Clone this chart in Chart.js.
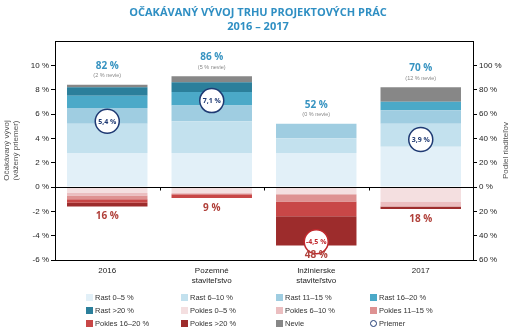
<!DOCTYPE html>
<html>
<head>
<meta charset="utf-8">
<script src="https://cdn.jsdelivr.net/npm/chart.js@4.4.1/dist/chart.umd.min.js"></script>
<style>
  body { margin: 0; background: #fff; }
  #wrap { position: relative; width: 520px; height: 333px; overflow: hidden; }
  #title { position: absolute; left: 0; top: 5px; width: 516px; text-align: center;
    font: bold 11px "Open Sans", sans-serif; color: #2f8fc3; line-height: 14px; }
  #legend { position: absolute; left: 0; top: 293px; width: 520px; }
  .li { position: absolute; font: 7.5px "Liberation Sans", Arial, sans-serif; color: #333; white-space: nowrap; line-height: 9px; }
  .li span.b { display: inline-block; width: 7px; height: 7px; vertical-align: -1px; margin-right: 2px; }
  .li span.c { display: inline-block; width: 5px; height: 5px; border: 1.5px solid #1f3a73; border-radius: 50%; vertical-align: -1px; margin-right: 2px; box-sizing: content-box; }
</style>
</head>
<body>
<div id="wrap">
  <canvas id="chart" width="520" height="333"></canvas>
  <div id="title">OČAKÁVANÝ VÝVOJ TRHU PROJEKTOVÝCH PRÁC<br>2016 – 2017</div>
  <div id="legend"></div>
</div>
<script>
// kategórie
const categories = ['2016', ['Pozemné', 'staviteľstvo'], ['Inžinierske', 'staviteľstvo'], '2017'];

// podiel riaditeľov (%)
const rast0_5 = [28, 28, 28, 33];
const rast6_10 = [24, 26, 12, 19];
const rast11_15 = [13, 13, 12, 11];
const rast16_20 = [10, 11, 0, 7];
const rastNad20 = [7, 8, 0, 0];
const pokles0_5 = [-5, -5, -6, -12];
const pokles6_10 = [-2, -1, 0, -4];
const pokles11_15 = [-3, 0, -6, 0];
const pokles16_20 = [-3, -3, -12, 0];
const poklesNad20 = [-3, 0, -24, -2];
const nevie = [2, 5, 0, 12];

// očakávaný vývoj (vážený priemer, %)
const priemer = [5.4, 7.1, -4.5, 3.9];

const series = [
  { label: 'Rast 0–5 %', data: rast0_5, color: '#e2f0f8' },
  { label: 'Rast 6–10 %', data: rast6_10, color: '#c3e1ee' },
  { label: 'Rast 11–15 %', data: rast11_15, color: '#9fcde1' },
  { label: 'Rast 16–20 %', data: rast16_20, color: '#4ba9c8' },
  { label: 'Rast >20 %', data: rastNad20, color: '#2b7f9b' },
  { label: 'Pokles 0–5 %', data: pokles0_5, color: '#f4dfe0' },
  { label: 'Pokles 6–10 %', data: pokles6_10, color: '#ebbec0' },
  { label: 'Pokles 11–15 %', data: pokles11_15, color: '#de9292' },
  { label: 'Pokles 16–20 %', data: pokles16_20, color: '#c84747' },
  { label: 'Pokles >20 %', data: poklesNad20, color: '#9d2c2c' },
  { label: 'Nevie', data: nevie, color: '#878787' }
];

const NAVY = '#1f3a73';
const RED = '#c0282d';

function sum(arrs, i) {
  return arrs.reduce((s, a) => s + a[i], 0);
}
const rastTotal = categories.map((c, i) => sum([rast0_5, rast6_10, rast11_15, rast16_20, rastNad20], i));
const poklesTotal = categories.map((c, i) => sum([pokles0_5, pokles6_10, pokles11_15, pokles16_20, poklesNad20], i));

const datasets = series.map(s => ({
  type: 'bar',
  label: s.label,
  data: s.data,
  backgroundColor: s.color,
  yAxisID: 'y2',
  stack: 's',
  order: 1,
  barPercentage: 0.77,
  categoryPercentage: 1
}));
datasets.push({
  type: 'line',
  label: 'Priemer',
  data: priemer,
  yAxisID: 'y',
  showLine: false,
  order: 0,
  pointRadius: 12,
  pointBorderWidth: 1.5,
  pointBackgroundColor: '#fff',
  pointBorderColor: priemer.map(v => v < 0 ? RED : NAVY)
});

const framePlugin = {
  id: 'frame',
  afterDatasetsDraw(chart) {
    const ctx = chart.ctx;
    const a = chart.chartArea;
    const x = chart.scales.x;
    const y2 = chart.scales.y2;
    ctx.save();
    ctx.strokeStyle = '#000';
    ctx.lineWidth = 1;
    ctx.strokeRect(Math.round(a.left) + 0.5, Math.round(a.top) + 0.5, Math.round(a.right - a.left), Math.round(a.bottom - a.top));
    const z = Math.round(y2.getPixelForValue(0)) + 0.5;
    ctx.beginPath();
    ctx.moveTo(a.left, z);
    ctx.lineTo(a.right, z);
    const step = x.getPixelForValue(1) - x.getPixelForValue(0);
    for (let i = 1; i < categories.length; i++) {
      const bx = Math.round(x.getPixelForValue(i) - step / 2) + 0.5;
      ctx.moveTo(bx, z);
      ctx.lineTo(bx, z + 3);
    }
    ctx.stroke();

    // popisky nad a pod stĺpcami
    ctx.textAlign = 'center';
    ctx.textBaseline = 'middle';
    categories.forEach((c, i) => {
      const cx = x.getPixelForValue(i);
      const top = y2.getPixelForValue(rastTotal[i] + nevie[i]);
      ctx.fillStyle = '#3793c1';
      ctx.font = 'bold 10px "Open Sans", sans-serif';
      ctx.fillText(rastTotal[i] + ' %', cx, top - 19);
      ctx.fillStyle = '#888';
      ctx.font = '5.5px "Liberation Sans", sans-serif';
      ctx.fillText('(' + nevie[i] + ' % nevie)', cx, top - 9);
      const bot = y2.getPixelForValue(poklesTotal[i]);
      ctx.fillStyle = '#b0403a';
      ctx.font = 'bold 10px "Open Sans", sans-serif';
      ctx.fillText(Math.abs(poklesTotal[i]) + ' %', cx, bot + 10);
    });

    // text v krúžkoch
    const meta = chart.getDatasetMeta(datasets.length - 1);
    meta.data.forEach((pt, i) => {
      ctx.fillStyle = priemer[i] < 0 ? RED : NAVY;
      ctx.font = 'bold 7px "Open Sans", sans-serif';
      ctx.fillText(String(priemer[i]).replace('.', ',') + ' %', pt.x, pt.y + 0.5);
    });

    // názvy osí
    ctx.fillStyle = '#555';
    ctx.font = '8px "Liberation Sans", sans-serif';
    const mid = (a.top + a.bottom) / 2;
    ctx.save();
    ctx.translate(11, mid);
    ctx.rotate(-Math.PI / 2);
    ctx.fillText('Očakávaný vývoj', 0, -4);
    ctx.fillText('(vážený priemer)', 0, 5);
    ctx.restore();
    ctx.save();
    ctx.translate(506, mid);
    ctx.rotate(-Math.PI / 2);
    ctx.fillText('Podiel riaditeľov', 0, 0);
    ctx.restore();
    ctx.restore();
  }
};

const tickFont = { family: '"Liberation Sans", Arial, sans-serif', size: 8 };

new Chart(document.getElementById('chart'), {
  data: { labels: categories, datasets: datasets },
  plugins: [framePlugin],
  options: {
    responsive: false,
    animation: false,
    layout: { padding: { top: 41, left: 0, right: 0, bottom: 0 } },
    plugins: {
      legend: { display: false },
      tooltip: { enabled: false }
    },
    scales: {
      x: {
        stacked: true,
        grid: { display: false, tickLength: 0 },
        border: { display: false },
        ticks: { color: '#222', font: tickFont, padding: 6, maxRotation: 0 },
        afterFit: s => { s.height = 73; }
      },
      y: {
        position: 'left',
        min: -6,
        max: 12,
        border: { display: false },
        grid: {
          drawOnChartArea: false,
          tickLength: 4,
          tickColor: c => c.tick && c.tick.value === 12 ? 'rgba(0,0,0,0)' : '#000'
        },
        ticks: {
          stepSize: 2,
          color: '#222',
          font: tickFont,
          padding: 2,
          callback: v => v === 12 ? '' : v + ' %'
        },
        afterFit: s => { s.width = 55; }
      },
      y2: {
        position: 'right',
        stacked: true,
        min: -60,
        max: 120,
        border: { display: false },
        grid: {
          drawOnChartArea: false,
          tickLength: 4,
          tickColor: c => c.tick && c.tick.value === 120 ? 'rgba(0,0,0,0)' : '#000'
        },
        ticks: {
          stepSize: 20,
          color: '#222',
          font: tickFont,
          padding: 2,
          callback: v => v === 120 ? '' : Math.abs(v) + ' %'
        },
        afterFit: s => { s.width = 47; }
      }
    }
  }
});

// legenda
const legendCols = [86, 181, 276, 370];
const legendRows = [0, 13, 26];
const legendItems = series.map(s => ({ label: s.label, color: s.color })).concat([{ label: 'Priemer', circle: true }]);
const legendEl = document.getElementById('legend');
legendItems.forEach((it, k) => {
  const d = document.createElement('div');
  d.className = 'li';
  d.style.left = legendCols[k % 4] + 'px';
  d.style.top = legendRows[Math.floor(k / 4)] + 'px';
  const b = document.createElement('span');
  if (it.circle) {
    b.className = 'c';
  } else {
    b.className = 'b';
    b.style.background = it.color;
  }
  d.appendChild(b);
  d.appendChild(document.createTextNode(it.label));
  legendEl.appendChild(d);
});
</script>
</body>
</html>
